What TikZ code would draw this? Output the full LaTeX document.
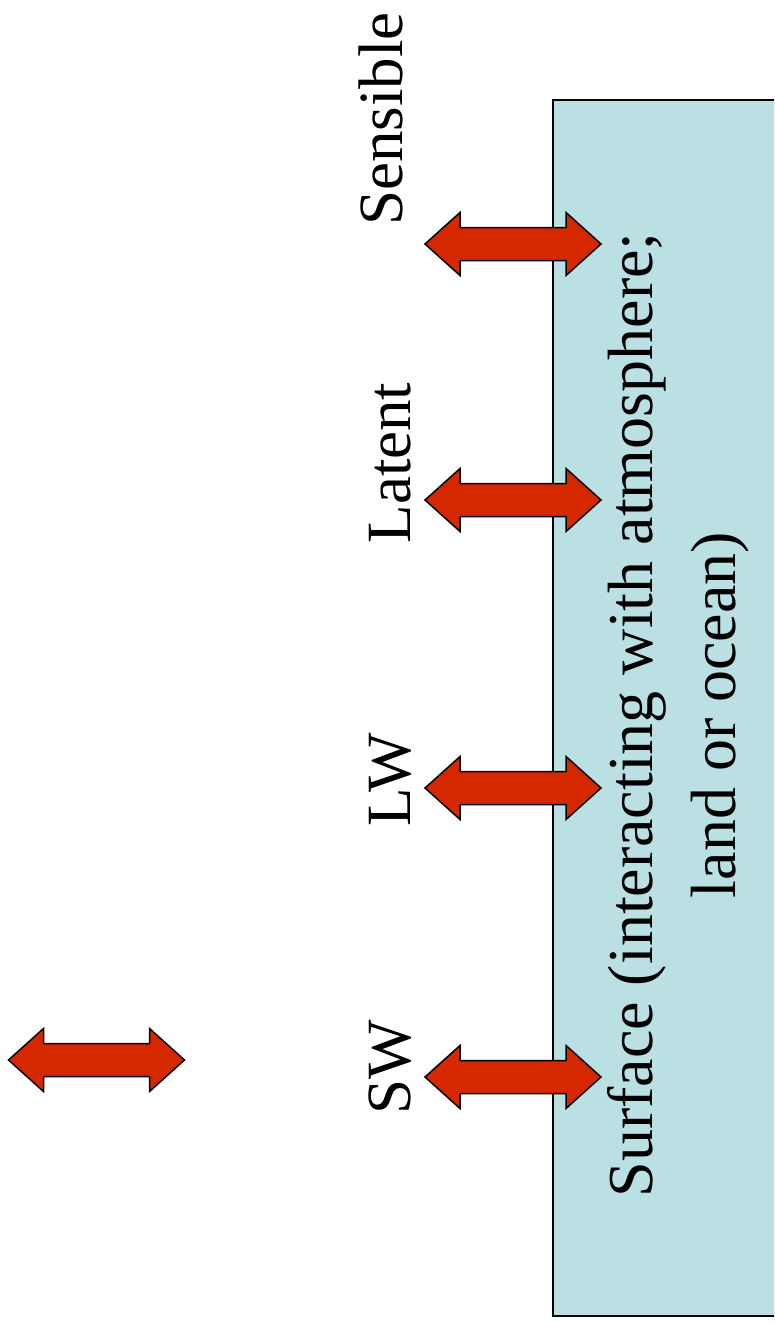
\documentclass[tikz,border=0pt]{standalone}
\usepackage{fontspec}
\setmainfont{Liberation Serif}
\definecolor{surfblue}{RGB}{186,224,228}
\definecolor{arrred}{RGB}{214,40,0}
\tikzset{
  dblarrow/.pic={
    \draw[fill=arrred, draw=black, line width=1.5pt, line join=miter]
      (-88,0) -- (-53,31.5) -- (-53,16.5) -- (53,16.5) -- (53,31.5) -- (88,0)
      -- (53,-31.5) -- (53,-16.5) -- (-53,-16.5) -- (-53,-31.5) -- cycle;
  },
  fluxlabel/.style={rotate=90, anchor=base, inner sep=0pt, font=\fontsize{63}{75}\selectfont},
  surflabel/.style={rotate=90, anchor=center, inner sep=0pt, align=center, font=\fontsize{64}{83}\selectfont}
}
\begin{document}
\begin{tikzpicture}[x=1pt,y=1pt]
\useasboundingbox (0,0) rectangle (774,-1325);
\clip (0,0) rectangle (774,-1325);
\fill[white] (0,0) rectangle (774,-1325);
% surface box (continues past right edge)
\fill[surfblue] (553,-100) rectangle (790,-1316);
\draw[line width=2.5pt] (790,-100) -- (553,-100) -- (553,-1316) -- (790,-1316);
\node[surflabel] (surf) at (678,-715) {Surface (interacting with atmosphere;\\land or ocean)};
% arrows
\pic (asens) at (513,-244) {dblarrow};
\pic (alat) at (513,-500) {dblarrow};
\pic (alw) at (513,-788) {dblarrow};
\pic (asw) at (513,-1077) {dblarrow};
\pic (alone) at (96.5,-1060) {dblarrow};
% labels
\node[fluxlabel] (sens) at (402,-119) {Sensible};
\node[fluxlabel] (lat) at (410,-463) {Latent};
\node[fluxlabel] (lw) at (410,-780) {LW};
\node[fluxlabel] (sw) at (410,-1067) {SW};
\end{tikzpicture}
\end{document}
